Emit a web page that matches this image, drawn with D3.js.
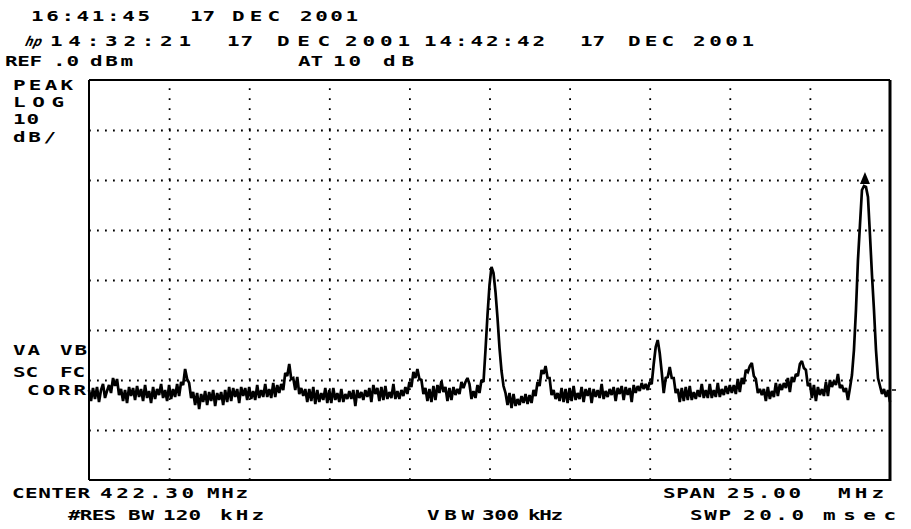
<!DOCTYPE html>
<html><head><meta charset="utf-8">
<script src="https://cdn.jsdelivr.net/npm/d3@7"></script>
<style>
html,body{margin:0;padding:0;background:#fff;}
svg{display:block;}
text{font-family:"DejaVu Sans Mono",monospace;font-weight:bold;font-size:13.5px;fill:#000;}
</style>
</head><body>
<svg id="c" width="911" height="529"></svg>
<script>
// ---- instrument settings / data ----
const centerMHz = 422.30;
const spanMHz = 25.00;
const refLevelDbm = 0;
const dbPerDiv = 10;
const numDivY = 8;
const freqTicks = [412.3, 414.8, 417.3, 419.8, 422.3, 424.8, 427.3, 429.8, 432.3];
const levelTicks = [-70, -60, -50, -40, -30, -20, -10];
// 401 trace points (dBm)
const traceDbm = [
-62.0,-64.2,-61.6,-63.8,-61.4,-64.4,-62.0,-60.8,-63.6,-62.2,
-61.0,-62.6,-59.6,-61.2,-59.8,-63.0,-61.8,-64.2,-62.0,-64.6,
-61.4,-63.2,-61.6,-64.0,-61.2,-63.4,-61.8,-64.2,-61.0,-63.6,
-62.2,-64.6,-61.4,-63.8,-61.8,-63.0,-60.8,-63.6,-62.0,-64.2,
-61.0,-63.8,-61.8,-63.4,-60.8,-63.2,-60.4,-61.0,-57.8,-59.8,
-60.6,-63.6,-62.4,-65.0,-62.6,-65.8,-62.8,-64.4,-62.2,-65.0,
-62.4,-64.2,-62.0,-65.2,-62.6,-64.0,-62.4,-65.0,-62.0,-64.4,
-61.4,-64.2,-61.6,-63.4,-61.8,-64.6,-61.4,-63.2,-61.6,-64.0,
-61.4,-63.8,-62.2,-64.0,-61.0,-63.6,-62.0,-63.4,-60.8,-63.4,
-61.8,-63.6,-60.6,-63.4,-61.0,-62.6,-60.8,-62.0,-58.6,-59.2,
-56.8,-59.8,-59.6,-62.0,-59.4,-62.8,-61.6,-63.2,-61.8,-64.4,
-61.8,-64.2,-61.4,-64.8,-62.0,-64.4,-62.6,-64.0,-61.6,-64.6,
-62.0,-64.6,-61.6,-64.0,-62.6,-64.4,-61.8,-64.4,-62.8,-63.8,
-62.2,-63.8,-62.0,-65.2,-62.0,-63.6,-62.4,-64.0,-62.0,-63.4,
-61.6,-64.4,-61.0,-62.8,-61.6,-64.2,-61.4,-64.0,-61.2,-63.8,
-62.4,-63.6,-60.8,-63.8,-62.2,-63.8,-62.0,-63.2,-61.4,-62.8,
-60.4,-61.4,-58.4,-59.6,-57.8,-59.8,-60.0,-62.8,-61.6,-64.2,
-61.8,-64.4,-61.2,-64.0,-61.0,-62.6,-60.2,-62.4,-61.4,-64.2,
-61.6,-64.0,-61.4,-63.0,-61.8,-62.8,-60.4,-61.6,-60.4,-59.6,
-60.8,-63.8,-62.2,-63.6,-61.0,-62.6,-60.0,-60.4,-54.0,-47.0,
-41.0,-37.4,-38.6,-42.4,-47.6,-53.6,-58.2,-61.2,-62.6,-65.0,
-62.6,-65.6,-62.8,-65.2,-63.8,-65.0,-63.2,-64.6,-62.8,-64.8,
-63.0,-64.6,-62.0,-63.2,-60.4,-61.2,-58.0,-58.8,-57.2,-59.6,
-59.6,-63.0,-62.0,-63.8,-62.6,-64.2,-61.6,-64.4,-61.8,-64.6,
-61.6,-64.2,-61.2,-64.0,-62.6,-63.8,-61.4,-64.4,-61.8,-63.2,
-61.6,-64.6,-61.8,-63.4,-62.0,-63.6,-60.8,-63.8,-62.2,-63.4,
-61.8,-63.0,-61.4,-64.2,-61.6,-62.8,-61.2,-64.0,-61.4,-63.0,
-61.6,-64.4,-61.0,-62.6,-61.2,-62.2,-60.6,-61.8,-60.8,-62.0,
-60.4,-60.8,-56.8,-53.4,-52.0,-54.6,-58.4,-62.6,-59.6,-59.4,
-57.4,-59.6,-59.6,-62.6,-61.8,-64.4,-61.6,-64.2,-61.4,-64.0,
-61.2,-64.0,-62.4,-63.8,-62.0,-63.4,-60.8,-63.6,-62.0,-63.6,
-60.8,-63.6,-62.0,-63.4,-60.6,-63.4,-61.8,-63.0,-61.2,-62.8,
-61.0,-62.6,-61.0,-62.8,-59.8,-62.4,-59.6,-60.8,-58.0,-58.4,
-57.2,-56.6,-59.2,-59.8,-62.6,-61.8,-63.0,-61.8,-64.2,-61.4,
-63.8,-62.2,-63.4,-60.6,-63.2,-60.8,-62.0,-60.6,-61.6,-59.6,
-62.4,-59.4,-60.4,-58.8,-59.2,-56.8,-56.2,-57.6,-58.0,-61.2,
-60.6,-63.6,-61.0,-64.2,-61.4,-63.0,-61.8,-63.2,-60.4,-63.2,
-60.0,-61.4,-60.2,-61.0,-58.8,-61.6,-61.0,-62.4,-61.6,-64.0,
-61.6,-59.0,-54.0,-46.0,-36.0,-29.0,-22.0,-21.2,-21.4,-23.4,
-31.0,-39.0,-46.0,-54.0,-59.6,-61.2,-62.8,-61.8,-63.4,-62.0,-64.4
];

// ---- annotation layout (text, left x, baseline y, visible width) ----
const annotations = [
  ["16:41:45", 31, 21, 118], ["17", 190, 21, 24], ["DEC", 232, 21, 47], ["2001", 300, 21, 57],
  ["14:32:21", 50, 46, 140], ["17", 227, 46, 25], ["DEC", 277, 46, 52], ["2001", 345, 46, 64],
  ["14:42:42", 424, 46, 120], ["17", 580, 46, 24], ["DEC", 628, 46, 45], ["2001", 693, 46, 60],
  ["REF", 5, 66, 36], [".0", 53, 66, 25], ["dBm", 90, 66, 42],
  ["AT", 298, 66, 24], ["10", 333, 66, 27], ["dB", 383, 66, 30],
  ["PEAK", 13, 90, 59], ["LOG", 13, 107, 50], ["10", 13, 124, 25], ["dB/", 13, 142, 42],
  ["VA", 13, 355, 26], ["VB", 60, 355, 26], ["SC", 13, 377, 24], ["FC", 60, 377, 24], ["CORR", 27, 395, 58],
  ["CENTER", 12, 498, 77], ["422.30", 100, 498, 93], ["MHz", 207, 498, 40],
  ["#RES", 68, 520, 47], ["BW", 128, 520, 25], ["120", 163, 520, 37], ["kHz", 220, 520, 43],
  ["VBW", 427, 520, 46], ["300", 482, 520, 36], ["kHz", 528, 520, 34],
  ["SPAN", 663, 498, 51], ["25.00", 727, 498, 73], ["MHz", 838, 498, 45],
  ["SWP", 690, 520, 40], ["20.0", 743, 520, 60], ["msec", 823, 520, 72]
];

// ---- drawing ----
const svg = d3.select("#c");
const L = 89, R = 890, T = 80, B = 480;
const startMHz = centerMHz - spanMHz / 2, stopMHz = centerMHz + spanMHz / 2;
const x = d3.scaleLinear().domain([startMHz, stopMHz]).range([L, R]);
const y = d3.scaleLinear().domain([refLevelDbm - dbPerDiv * numDivY, refLevelDbm]).range([B, T]);

// grid via axes
const gx = svg.append("g").attr("transform", `translate(0,${B})`)
  .call(d3.axisBottom(x).tickValues(freqTicks).tickSize(-(B - T)).tickFormat(""));
gx.select(".domain").remove();
gx.selectAll("line").attr("stroke", "#000").attr("stroke-width", 1.8).attr("stroke-dasharray", "1.8,8.2");

const gy = svg.append("g").attr("transform", `translate(${L},0)`)
  .call(d3.axisLeft(y).tickValues(levelTicks).tickSize(-(R - L)).tickFormat(""));
gy.select(".domain").remove();
gy.selectAll("line").attr("stroke", "#000").attr("stroke-width", 1.8).attr("stroke-dasharray", "1.8,6.2");

// trace
const step = spanMHz / (traceDbm.length - 1);
const pts = traceDbm.map((v, i) => [startMHz + i * step, v]);
const line = d3.line().x(d => x(d[0])).y(d => y(d[1]));
svg.append("path").datum(pts).attr("d", line)
  .attr("fill", "none").attr("stroke", "#000").attr("stroke-width", 2.7).attr("stroke-linejoin", "miter").attr("stroke-miterlimit", 2);

// marker at highest point
const pk = pts.reduce((a, b) => (b[1] > a[1] ? b : a));
const mx = x(pk[0]) + 1, my = y(pk[1]) - 2;
svg.append("path").attr("d", `M${mx - 5},${my} L${mx + 5},${my} L${mx},${my - 12} Z`).attr("fill", "#000");

// frame
svg.append("line").attr("x1", L).attr("x2", R).attr("y1", T).attr("y2", T).attr("stroke", "#000").attr("stroke-width", 2);
svg.append("line").attr("x1", L).attr("x2", R).attr("y1", B).attr("y2", B).attr("stroke", "#000").attr("stroke-width", 2);
svg.append("line").attr("x1", L).attr("x2", L).attr("y1", T).attr("y2", B).attr("stroke", "#000").attr("stroke-width", 2);
svg.append("line").attr("x1", R).attr("x2", R).attr("y1", T).attr("y2", B + 1).attr("stroke", "#000").attr("stroke-width", 3);
svg.append("line").attr("x1", R + 2).attr("x2", R + 6).attr("y1", y(-62)).attr("y2", y(-62)).attr("stroke", "#000").attr("stroke-width", 1.5);

// hp logo
svg.append("text").attr("x", 26).attr("y", 46).attr("font-style", "italic").attr("font-size", "14px")
  .attr("transform", "skewX(-14)").attr("dx", 10).text("hp");

// annotations: stretched monospace, spread to the measured width
const FS = 13.5, SX = 1.55, ADV = 0.602 * FS, INK = 11.5;
svg.selectAll("text.ann").data(annotations).enter().append("text").attr("class", "ann")
  .attr("transform", d => `translate(${d[1]},${d[2]}) scale(${SX},1)`)
  .attr("letter-spacing", d => {
    const n = d[0].length;
    if (n < 2) return 0;
    const pitch = (d[3] - INK) / (n - 1);
    return (pitch / SX - ADV).toFixed(2);
  })
  .text(d => d[0]);
</script>
</body></html>
